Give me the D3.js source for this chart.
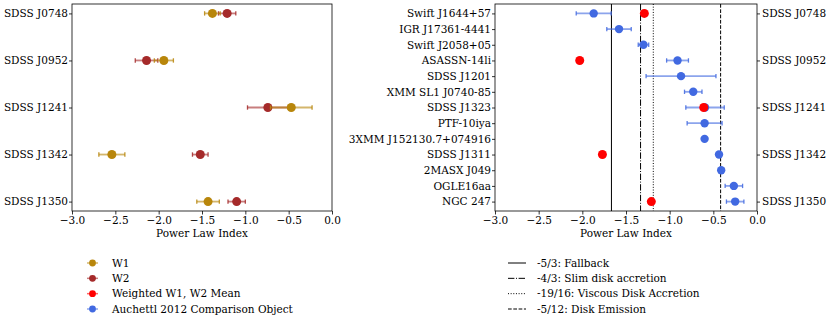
<!DOCTYPE html>
<html>
<head>
<meta charset="utf-8">
<style>
body { margin: 0; background: #fff; }
svg { font-family: "DejaVu Serif", serif; }
.axis text { font-size: 10.5px; fill: #000; font-family: "DejaVu Serif", serif; }
.axis path, .axis line { stroke: #000; stroke-width: 0.8; }
.lbl { font-size: 10.5px; }
</style>
</head>
<body>
<svg width="830" height="324"></svg>
<script src="https://d3js.org/d3.v7.min.js"></script>
<script>
// TDE objects, W1 / W2 fits
var objNames = ["SDSS J0748", "SDSS J0952", "SDSS J1241", "SDSS J1342", "SDSS J1350"];
var w1Vals = [-1.38, -1.94, -0.47, -2.54, -1.43];
var w1Err = [0.09, 0.11, 0.24, 0.15, 0.13];
var w2Vals = [-1.21, -2.14, -0.74, -1.52, -1.10];
var w2Err = [0.10, 0.13, 0.235, 0.09, 0.10];

// comparison objects
var compNames = ["Swift J1644+57", "IGR J17361-4441", "Swift J2058+05", "ASASSN-14li", "SDSS J1201",
  "XMM SL1 J0740-85", "SDSS J1323", "PTF-10iya", "3XMM J152130.7+074916", "SDSS J1311",
  "2MASX J049", "OGLE16aa", "NGC 247"];
var compVals = [-1.87, -1.58, -1.30, -0.91, -0.87, -0.73, -0.595, -0.60, -0.60, -0.435, -0.41, -0.265, -0.25];
var compErr = [0.20, 0.14, 0.06, 0.125, 0.40, 0.10, 0.22, 0.20, 0.01, 0.02, 0.02, 0.10, 0.10];

// weighted mean, placed at these comparison rows
var meanRows = [0, 3, 6, 9, 12];
var meanVals = [-1.29, -2.03, -0.61, -1.77, -1.21];

var modelVals = [-5 / 3, -4 / 3, -19 / 16, -5 / 12];
var modelLabels = ["-5/3: Fallback", "-4/3: Slim disk accretion", "-19/16: Viscous Disk Accretion", "-5/12: Disk Emission"];
var modelDash = [null, "6.4,1.6,1,1.6", "1,1.65", "3.7,1.6"];

var xTicks = [-3.0, -2.5, -2.0, -1.5, -1.0, -0.5, 0.0];

var C = { w1: "#b8860b", w2: "#a52a2a", mean: "#ff0000", comp: "#4169e1" };

var svg = d3.select("svg");
var plotTop = 4, plotBottom = 211;

function errbars(g, data, x, y, color, r) {
  var e = g.append("g").selectAll("g").data(data).enter().append("g");
  e.append("line")
    .attr("x1", function(d) { return x(d.v - d.e); })
    .attr("x2", function(d) { return x(d.v + d.e); })
    .attr("y1", function(d) { return y(d.i); })
    .attr("y2", function(d) { return y(d.i); })
    .attr("stroke", color).attr("stroke-width", 1.8).attr("opacity", 0.6);
  [-1, 1].forEach(function(s) {
    e.append("line")
      .attr("x1", function(d) { return x(d.v + s * d.e); })
      .attr("x2", function(d) { return x(d.v + s * d.e); })
      .attr("y1", function(d) { return y(d.i) - 2.2; })
      .attr("y2", function(d) { return y(d.i) + 2.2; })
      .attr("stroke", color).attr("stroke-width", 1.3).attr("opacity", 0.85);
  });
  e.append("circle")
    .attr("cx", function(d) { return x(d.v); })
    .attr("cy", function(d) { return y(d.i); })
    .attr("r", r).attr("fill", color);
}

function frame(g, x0, x1) {
  g.append("rect").attr("x", x0).attr("y", plotTop).attr("width", x1 - x0).attr("height", plotBottom - plotTop)
    .attr("fill", "none").attr("stroke", "#000").attr("stroke-width", 0.8);
}

function xAxis(g, x) {
  g.append("g").attr("class", "axis").attr("transform", "translate(0," + plotBottom + ")")
    .call(d3.axisBottom(x).tickValues(xTicks).tickFormat(d3.format(".1f")).tickSizeOuter(0).tickSize(3.5).tickPadding(2))
    .call(function(a) { a.select(".domain").remove(); });
  g.append("text").attr("class", "lbl")
    .attr("x", (x.range()[0] + x.range()[1]) / 2).attr("y", 237)
    .attr("text-anchor", "middle").text("Power Law Index");
}

// ---- left panel
var xL = d3.scaleLinear().domain([-3, 0]).range([72, 332]);
var yL = d3.scaleLinear().domain([-0.2, objNames.length - 1 + 0.2]).range([plotTop, plotBottom]);
var gL = svg.append("g");

gL.append("g").attr("class", "axis").attr("transform", "translate(72,0)")
  .call(d3.axisLeft(yL).tickValues(d3.range(objNames.length)).tickFormat(function(i) { return objNames[i]; })
    .tickSize(3).tickPadding(1).tickSizeOuter(0))
  .call(function(a) { a.select(".domain").remove(); });
xAxis(gL, xL);

errbars(gL, w2Vals.map(function(v, i) { return { v: v, e: w2Err[i], i: i }; }), xL, yL, C.w2, 4.5);
errbars(gL, w1Vals.map(function(v, i) { return { v: v, e: w1Err[i], i: i }; }), xL, yL, C.w1, 4.5);
frame(gL, 72, 332);

// ---- right panel
var xR = d3.scaleLinear().domain([-3, 0]).range([495, 757]);
var yR = d3.scaleLinear().domain([-0.6, compNames.length - 1 + 0.6]).range([plotTop, plotBottom]);
var gR = svg.append("g");

gR.append("g").attr("class", "axis").attr("transform", "translate(495,0)")
  .call(d3.axisLeft(yR).tickValues(d3.range(compNames.length)).tickFormat(function(i) { return compNames[i]; })
    .tickSize(3).tickPadding(1).tickSizeOuter(0))
  .call(function(a) { a.select(".domain").remove(); });
gR.append("g").attr("class", "axis").attr("transform", "translate(757,0)")
  .call(d3.axisRight(yR).tickValues(meanRows).tickFormat(function(r) { return objNames[meanRows.indexOf(r)]; })
    .tickSize(3).tickPadding(2).tickSizeOuter(0))
  .call(function(a) { a.select(".domain").remove(); });
xAxis(gR, xR);

gR.append("g").selectAll("line").data(modelVals).enter().append("line")
  .attr("x1", function(d) { return xR(d); }).attr("x2", function(d) { return xR(d); })
  .attr("y1", plotTop).attr("y2", plotBottom)
  .attr("stroke", "#000").attr("stroke-width", 1)
  .attr("stroke-dasharray", function(d, i) { return modelDash[i]; });

errbars(gR, compVals.map(function(v, i) { return { v: v, e: compErr[i], i: i }; }), xR, yR, C.comp, 4.2);
gR.append("g").selectAll("circle").data(meanVals).enter().append("circle")
  .attr("cx", function(d) { return xR(d); })
  .attr("cy", function(d, i) { return yR(meanRows[i]); })
  .attr("r", 4.5).attr("fill", C.mean);
frame(gR, 495, 757);

// ---- legends
var legY = d3.scalePoint().domain(d3.range(4)).range([263, 309]);
var legL = [["W1", C.w1], ["W2", C.w2], ["Weighted W1, W2 Mean", C.mean], ["Auchettl 2012 Comparison Object", C.comp]];
var lg = svg.append("g").selectAll("g").data(legL).enter().append("g")
  .attr("transform", function(d, i) { return "translate(0," + legY(i) + ")"; });
lg.append("line").attr("x1", 87).attr("x2", 98).attr("stroke", function(d) { return d[1]; })
  .attr("stroke-width", 1.5).attr("opacity", 0.6);
lg.append("circle").attr("cx", 92.5).attr("r", 3.4).attr("fill", function(d) { return d[1]; });
lg.append("text").attr("class", "lbl").attr("x", 112).attr("dy", "0.35em").text(function(d) { return d[0]; });

var lr = svg.append("g").selectAll("g").data(modelLabels).enter().append("g")
  .attr("transform", function(d, i) { return "translate(0," + legY(i) + ")"; });
lr.append("line").attr("x1", 508).attr("x2", 526).attr("stroke", "#000").attr("stroke-width", 1)
  .attr("stroke-dasharray", function(d, i) { return modelDash[i]; });
lr.append("text").attr("class", "lbl").attr("x", 537).attr("dy", "0.35em").text(function(d) { return d; });
</script>
</body>
</html>
